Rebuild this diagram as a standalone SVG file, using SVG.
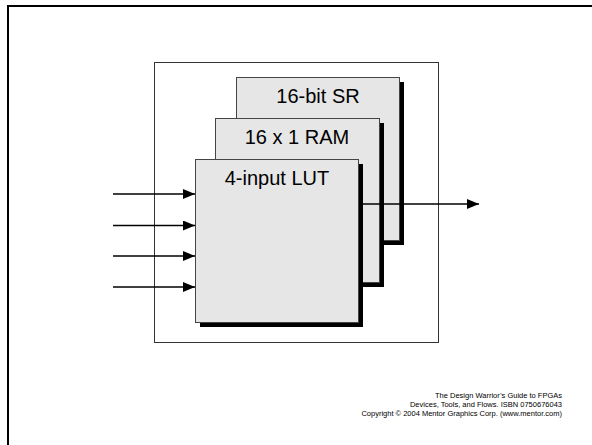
<svg xmlns="http://www.w3.org/2000/svg" width="592" height="445" viewBox="0 0 592 445">
<defs>
<marker id="ah" markerWidth="12" markerHeight="10" refX="12" refY="5" orient="auto" markerUnits="userSpaceOnUse">
<path d="M0,0 L12,5 L0,10 Z" fill="#000"/>
</marker>
<style>
.frame{fill:none;stroke:#000;stroke-width:2}
.inner{fill:none;stroke:#333;stroke-width:1}
.shadow{fill:#000}
.box{fill:#e6e6e6;stroke:#444;stroke-width:1}
.lbl{font-family:"Liberation Sans",Arial,sans-serif;font-size:20px;fill:#000;text-anchor:middle}
.wire{fill:none;stroke:#000;stroke-width:1.5}
.cr{font-family:"Liberation Sans",Arial,sans-serif;font-size:7.5px;fill:#000;text-anchor:end}
</style>
</defs>
<rect class="frame" x="8" y="6" width="600" height="460"/>
<rect class="inner" x="154.5" y="62.5" width="284" height="280"/>
<g id="sr">
<rect class="shadow" x="241" y="82" width="163" height="163"/>
<rect class="box" x="236.5" y="77.5" width="163" height="163"/>
<text class="lbl" x="318" y="103">16-bit SR</text>
</g>
<g id="ram">
<rect class="shadow" x="220" y="123" width="164" height="164"/>
<rect class="box" x="215.5" y="118.5" width="164" height="164"/>
<text class="lbl" x="297" y="144">16 x 1 RAM</text>
</g>
<g id="connectors">
<line class="wire" x1="113" y1="194" x2="195" y2="194" marker-end="url(#ah)"/>
<line class="wire" x1="113" y1="225.5" x2="195" y2="225.5" marker-end="url(#ah)"/>
<line class="wire" x1="113" y1="256" x2="195" y2="256" marker-end="url(#ah)"/>
<line class="wire" x1="113" y1="287" x2="195" y2="287" marker-end="url(#ah)"/>
<line class="wire" x1="358" y1="204" x2="479" y2="204" marker-end="url(#ah)"/>
</g>
<g id="lut">
<rect class="shadow" x="200" y="164" width="163" height="163"/>
<rect class="box" x="195.5" y="159.5" width="163" height="163"/>
<text class="lbl" x="277" y="185">4-input LUT</text>
</g>
<g id="copyright">
<text class="cr" x="562" y="398">The Design Warrior’s Guide to FPGAs</text>
<text class="cr" x="562" y="407">Devices, Tools, and Flows. ISBN 0750676043</text>
<text class="cr" x="562" y="416">Copyright © 2004 Mentor Graphics Corp. (www.mentor.com)</text>
</g>
</svg>
